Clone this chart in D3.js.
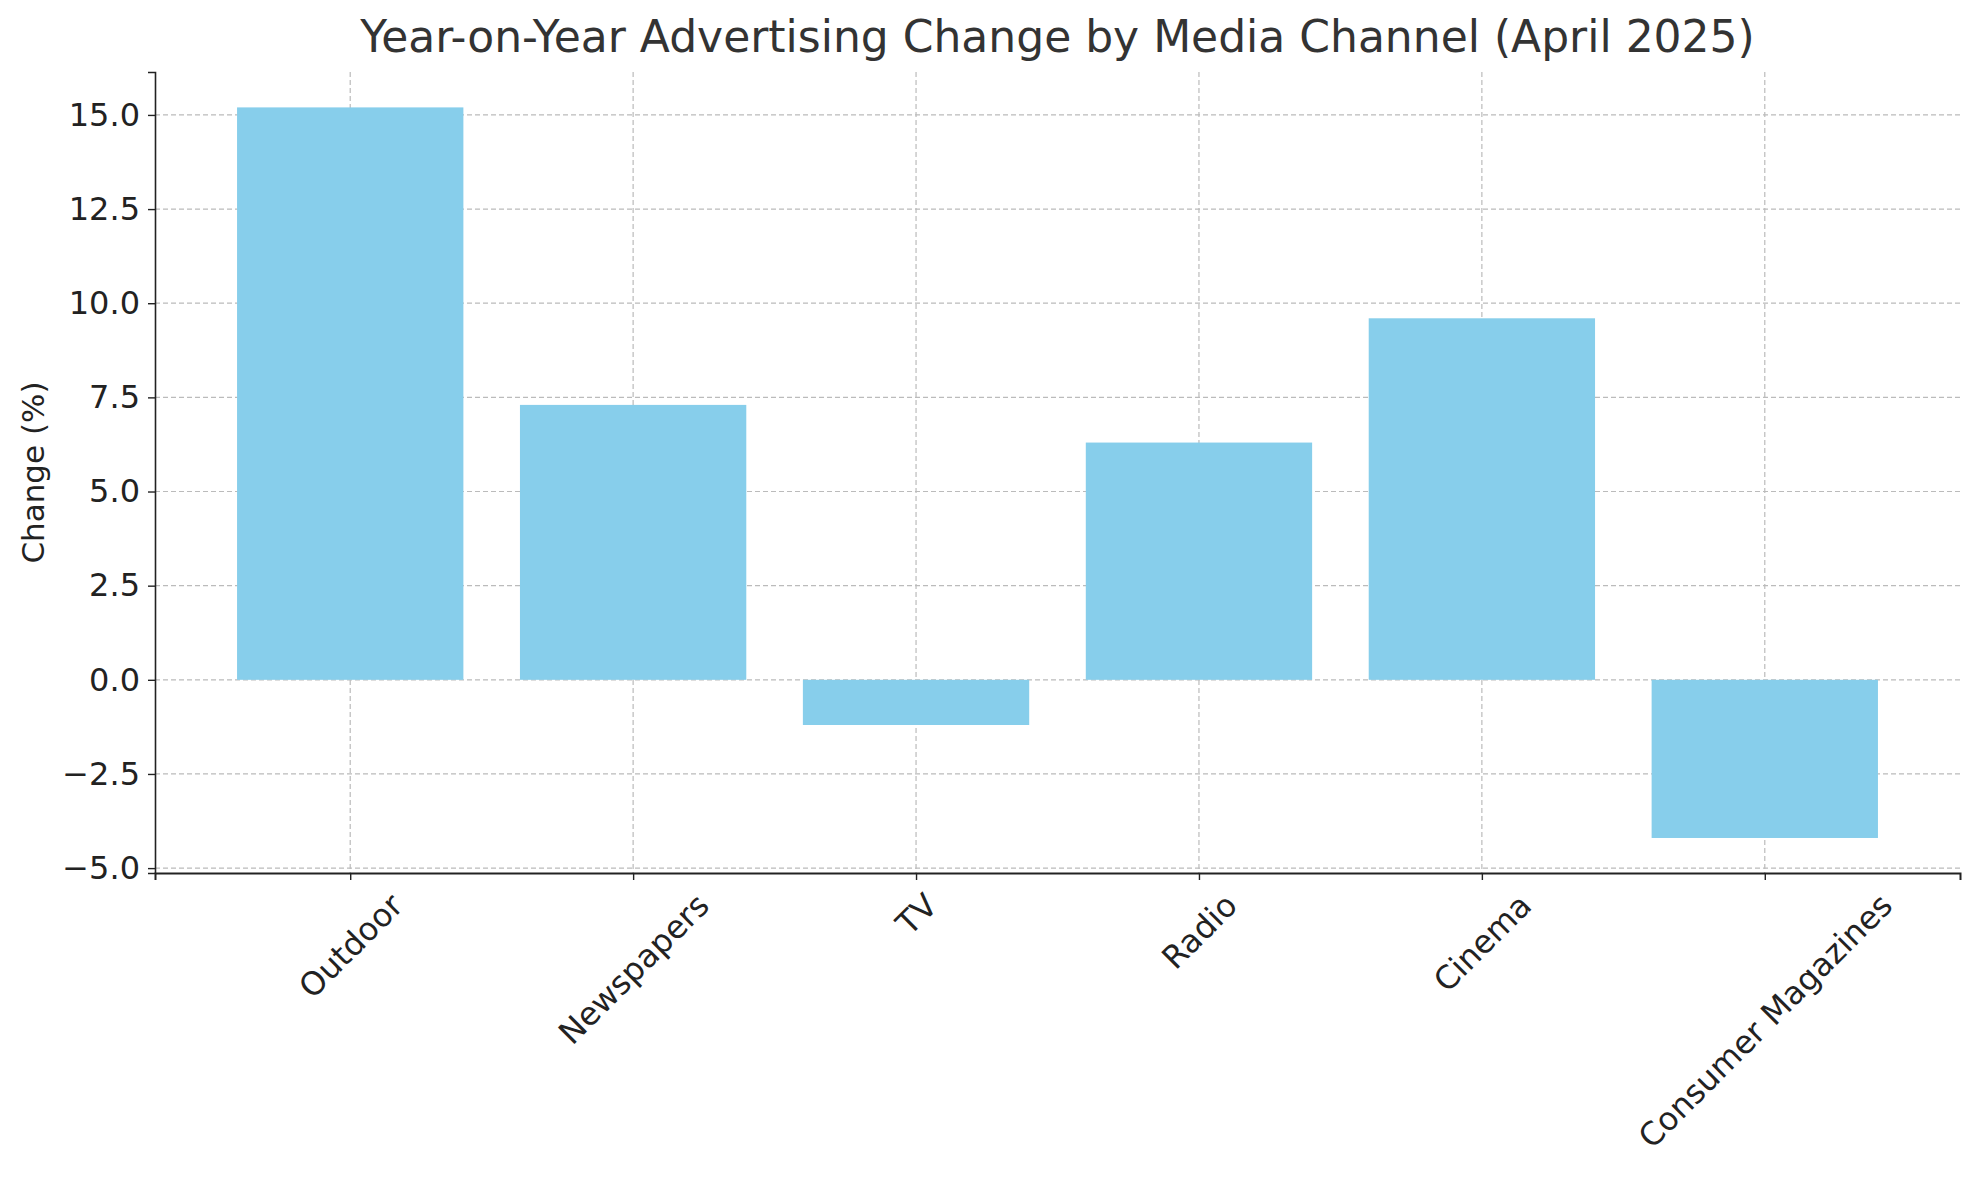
<!DOCTYPE html>
<html><head><meta charset="utf-8">
<script src="https://cdn.jsdelivr.net/npm/d3@7"></script>
<style>
body{margin:0;background:#fff;font-family:"DejaVu Sans",sans-serif;}
.tick text{fill:#222;font-size:32px;font-family:"DejaVu Sans",sans-serif;}
</style></head><body>
<svg id="c" width="1980" height="1180"></svg>
<script>
var categories = ["Outdoor", "Newspapers", "TV", "Radio", "Cinema", "Consumer Magazines"];
var changes = [15.2, 7.3, -1.2, 6.3, 9.6, -4.2];
var yTicks = [-5, -2.5, 0, 2.5, 5, 7.5, 10, 12.5, 15];

var svg = d3.select("#c");
var mLeft = 155, mRight = 1960, mTop = 72, mBottom = 873;

var x = d3.scaleLinear().domain([-0.69, 5.69]).range([mLeft, mRight]);
var y = d3.scaleLinear().domain([-5.13, 16.14]).range([mBottom, mTop]);
var barW = 0.8;

// grid
var grid = svg.append("g").attr("stroke", "#bbb").attr("stroke-dasharray", "5,3").attr("stroke-width", 1.2);
yTicks.forEach(function (t) {
    grid.append("line").attr("x1", mLeft).attr("x2", mRight).attr("y1", y(t)).attr("y2", y(t));
});
categories.forEach(function (c, i) {
    grid.append("line").attr("x1", x(i)).attr("x2", x(i)).attr("y1", mTop).attr("y2", mBottom);
});

// bars
svg.append("g").selectAll("rect").data(changes).enter().append("rect")
    .attr("x", function (d, i) { return x(i - barW / 2); })
    .attr("width", function (d, i) { return x(i + barW / 2) - x(i - barW / 2); })
    .attr("y", function (d) { return y(Math.max(0, d)); })
    .attr("height", function (d) { return Math.abs(y(d) - y(0)); })
    .attr("fill", "#87ceeb");

// y axis
var yAxis = svg.append("g").attr("transform", "translate(" + mLeft + ",0)")
    .call(d3.axisLeft(y).tickValues(yTicks).tickSize(7).tickPadding(8)
        .tickFormat(function (d) { return d3.format(".1f")(d).replace("-", "\u2212"); }));
yAxis.select(".domain").attr("stroke", "#222").attr("stroke-width", 1.6);
yAxis.selectAll(".tick line").attr("stroke", "#222").attr("stroke-width", 1.4);

// x axis
var xAxis = svg.append("g").attr("transform", "translate(0," + mBottom + ")")
    .call(d3.axisBottom(x).tickValues(d3.range(categories.length)).tickSize(7)
        .tickFormat(function (i) { return categories[i]; }));
xAxis.select(".domain").attr("stroke", "#222").attr("stroke-width", 2);
xAxis.selectAll(".tick line").attr("stroke", "#222").attr("stroke-width", 1.4);
xAxis.selectAll(".tick text").each(function () {
    var t = d3.select(this);
    var w = this.getComputedTextLength(), h = 30;
    var half = (w + h) * Math.SQRT1_2 / 2;
    t.attr("text-anchor", "middle").attr("dy", "0.35em").attr("y", 0)
        .attr("transform", "translate(0," + (16 + half) + ") rotate(-45)");
});

// title + y label
svg.append("text").attr("x", (mLeft + mRight) / 2).attr("y", 52).attr("text-anchor", "middle")
    .attr("font-size", 44).attr("fill", "#333").text("Year-on-Year Advertising Change by Media Channel (April 2025)");
svg.append("text").attr("transform", "translate(44," + ((mTop + mBottom) / 2) + ") rotate(-90)")
    .attr("text-anchor", "middle").attr("font-size", 31).attr("fill", "#222").text("Change (%)");
</script>
</body></html>
